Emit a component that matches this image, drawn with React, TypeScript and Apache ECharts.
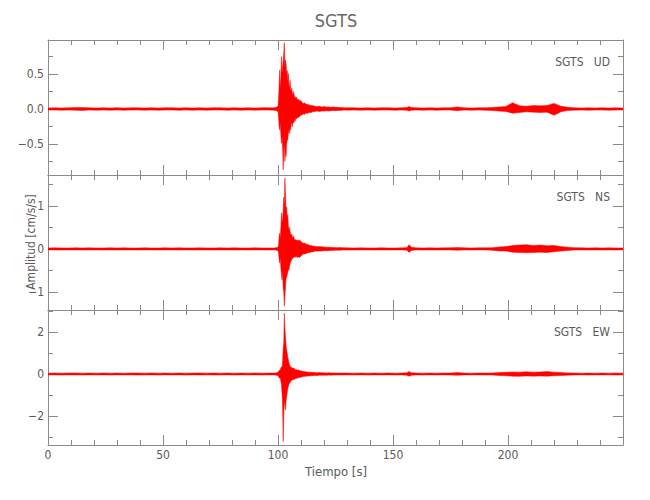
import React, { useEffect, useRef } from 'react';
import * as echarts from 'echarts';

// ---------- data ----------
// sample times [s] (non-uniform: denser around the main arrival)
const T = [
  0, 3, 6, 9, 12, 15, 18, 21, 24, 27, 30, 33, 36, 39, 42, 45, 48, 51, 54, 57, 60, 63, 66, 69, 72, 75, 78, 81, 84, 87, 90, 93, 96,
  98, 99, 100,
  100.25, 100.5, 100.75, 101, 101.25, 101.5, 101.75, 102, 102.25, 102.5, 102.75, 103, 103.25, 103.5, 103.75, 104,
  104.25, 104.5, 104.75, 105, 105.25, 105.5, 105.75, 106, 106.25, 106.5, 106.75, 107, 107.25, 107.5, 107.75, 108,
  108.5, 109, 109.5, 110, 110.5, 111, 111.5, 112, 112.5, 113, 113.5, 114, 114.5, 115,
  116, 117, 118, 119, 120, 121, 122, 123, 124, 125, 126, 127, 128, 129, 130,
  133, 136, 139, 142, 145, 148, 151, 154, 156, 157, 158,
  160, 163, 166, 169, 172, 175, 178, 181, 184, 187, 190, 193, 196, 199, 202, 205, 208, 211, 214, 217,
  220, 223, 226, 229, 232, 235, 238, 241, 244, 247, 250,
];

// UD component: upper / lower envelope [cm/s/s]
const udHi = [
  0.015, 0.018, 0.015, 0.018, 0.022, 0.022, 0.018, 0.015, 0.018, 0.015, 0.018, 0.015, 0.018, 0.018, 0.015, 0.018, 0.015, 0.018, 0.018, 0.015, 0.018, 0.015, 0.018, 0.015, 0.018, 0.018, 0.015, 0.018, 0.015, 0.018, 0.015, 0.018, 0.018,
  0.018, 0.022, 0.04,
  0.15, 0.35, 0.56, 0.3, 0.45, 0.75, 0.5, 0.6, 0.7, 0.8, 0.95, 0.6, 0.7, 0.65, 0.5, 0.55,
  0.4, 0.51, 0.35, 0.3, 0.41, 0.28, 0.25, 0.3, 0.22, 0.2, 0.25, 0.2, 0.16, 0.18, 0.15, 0.17,
  0.13, 0.14, 0.11, 0.12, 0.09, 0.08, 0.09, 0.07, 0.07, 0.06, 0.06, 0.05, 0.05, 0.05,
  0.04, 0.035, 0.04, 0.03, 0.035, 0.03, 0.03, 0.025, 0.03, 0.025, 0.025, 0.02, 0.022, 0.018, 0.018,
  0.018, 0.015, 0.018, 0.015, 0.018, 0.018, 0.015, 0.018, 0.022, 0.035, 0.022,
  0.018, 0.015, 0.018, 0.015, 0.018, 0.018, 0.03, 0.018, 0.015, 0.018, 0.018, 0.022, 0.03, 0.035, 0.09, 0.045, 0.04, 0.05, 0.045, 0.05,
  0.08, 0.04, 0.025, 0.018, 0.015, 0.018, 0.015, 0.018, 0.015, 0.018, 0.015,
];
const udLo = [
  -0.015, -0.015, -0.018, -0.015, -0.018, -0.022, -0.015, -0.018, -0.015, -0.018, -0.015, -0.018, -0.015, -0.015, -0.018, -0.015, -0.018, -0.015, -0.015, -0.018, -0.015, -0.018, -0.015, -0.018, -0.015, -0.015, -0.018, -0.015, -0.018, -0.015, -0.018, -0.015, -0.015,
  -0.018, -0.022, -0.035,
  -0.12, -0.25, -0.3, -0.2, -0.38, -0.49, -0.4, -0.55, -0.87, -0.6, -0.5, -0.75, -0.6, -0.68, -0.5, -0.45,
  -0.44, -0.35, -0.3, -0.35, -0.25, -0.3, -0.22, -0.2, -0.25, -0.18, -0.2, -0.19, -0.15, -0.17, -0.13, -0.14,
  -0.12, -0.12, -0.1, -0.09, -0.08, -0.07, -0.08, -0.06, -0.06, -0.06, -0.05, -0.05, -0.05, -0.04,
  -0.035, -0.03, -0.035, -0.03, -0.03, -0.025, -0.03, -0.025, -0.02, -0.025, -0.02, -0.02, -0.018, -0.015, -0.018,
  -0.015, -0.018, -0.015, -0.018, -0.015, -0.015, -0.018, -0.015, -0.018, -0.03, -0.018,
  -0.015, -0.018, -0.015, -0.018, -0.015, -0.015, -0.025, -0.015, -0.018, -0.015, -0.018, -0.022, -0.03, -0.035, -0.06, -0.05, -0.04, -0.045, -0.05, -0.045,
  -0.09, -0.04, -0.022, -0.018, -0.015, -0.018, -0.015, -0.015, -0.018, -0.015, -0.015,
];

// NS component
const nsHi = [
  0.022, 0.026, 0.022, 0.022, 0.026, 0.022, 0.026, 0.022, 0.022, 0.026, 0.022, 0.026, 0.022, 0.022, 0.026, 0.022, 0.022, 0.026, 0.022, 0.026, 0.022, 0.022, 0.026, 0.022, 0.022, 0.026, 0.022, 0.026, 0.022, 0.022, 0.026, 0.022, 0.022,
  0.022, 0.026, 0.04,
  0.1, 0.3, 0.37, 0.25, 0.5, 0.84, 0.6, 0.7, 0.9, 1.2, 1.0, 1.65, 1.3, 0.9, 0.98, 0.7,
  0.8, 0.55, 0.44, 0.5, 0.4, 0.35, 0.3, 0.35, 0.28, 0.25, 0.3, 0.25, 0.22, 0.2, 0.22, 0.2,
  0.21, 0.19, 0.21, 0.17, 0.15, 0.13, 0.14, 0.12, 0.11, 0.1, 0.09, 0.08, 0.08, 0.07,
  0.06, 0.05, 0.055, 0.05, 0.045, 0.04, 0.04, 0.04, 0.035, 0.035, 0.03, 0.035, 0.03, 0.03, 0.026,
  0.022, 0.026, 0.022, 0.022, 0.026, 0.022, 0.022, 0.026, 0.03, 0.1, 0.04,
  0.026, 0.022, 0.026, 0.022, 0.026, 0.026, 0.035, 0.026, 0.022, 0.026, 0.026, 0.03, 0.045, 0.055, 0.08, 0.09, 0.1, 0.08, 0.09, 0.075,
  0.08, 0.055, 0.04, 0.03, 0.026, 0.022, 0.026, 0.022, 0.026, 0.022, 0.022,
];
const nsLo = [
  -0.022, -0.022, -0.026, -0.022, -0.022, -0.026, -0.022, -0.022, -0.026, -0.022, -0.026, -0.022, -0.022, -0.026, -0.022, -0.022, -0.026, -0.022, -0.022, -0.026, -0.022, -0.026, -0.022, -0.022, -0.026, -0.022, -0.022, -0.026, -0.022, -0.026, -0.022, -0.022, -0.026,
  -0.022, -0.026, -0.04,
  -0.1, -0.25, -0.33, -0.2, -0.45, -0.6, -0.72, -0.5, -0.9, -1.0, -1.33, -1.1, -0.9, -0.7, -0.65, -0.6,
  -0.55, -0.45, -0.5, -0.4, -0.35, -0.3, -0.3, -0.25, -0.22, -0.22, -0.2, -0.2, -0.18, -0.2, -0.17, -0.18,
  -0.2, -0.18, -0.2, -0.16, -0.14, -0.12, -0.12, -0.11, -0.1, -0.09, -0.08, -0.08, -0.07, -0.07,
  -0.055, -0.05, -0.05, -0.045, -0.04, -0.04, -0.04, -0.035, -0.035, -0.03, -0.03, -0.03, -0.026, -0.026, -0.026,
  -0.026, -0.022, -0.022, -0.026, -0.022, -0.026, -0.022, -0.022, -0.03, -0.08, -0.035,
  -0.022, -0.026, -0.022, -0.026, -0.022, -0.022, -0.03, -0.022, -0.026, -0.022, -0.022, -0.03, -0.045, -0.05, -0.075, -0.085, -0.09, -0.085, -0.075, -0.085,
  -0.065, -0.05, -0.035, -0.026, -0.022, -0.026, -0.022, -0.026, -0.022, -0.026, -0.022,
];

// EW component
const ewHi = [
  0.04, 0.05, 0.04, 0.045, 0.05, 0.04, 0.045, 0.04, 0.05, 0.04, 0.045, 0.04, 0.05, 0.045, 0.04, 0.05, 0.04, 0.045, 0.04, 0.05, 0.04, 0.045, 0.05, 0.04, 0.045, 0.04, 0.05, 0.04, 0.045, 0.04, 0.05, 0.04, 0.045,
  0.045, 0.05, 0.08,
  0.12, 0.19, 0.15, 0.2, 0.3, 0.35, 0.3, 0.6, 1.2, 1.5, 2.9, 2.2, 1.78, 1.4, 1.14, 1.0,
  0.8, 0.7, 0.55, 0.43, 0.4, 0.35, 0.3, 0.32, 0.27, 0.3, 0.25, 0.27, 0.24, 0.22, 0.2, 0.22,
  0.18, 0.2, 0.16, 0.15, 0.14, 0.12, 0.12, 0.11, 0.1, 0.1, 0.09, 0.09, 0.08, 0.08,
  0.07, 0.065, 0.07, 0.06, 0.06, 0.055, 0.06, 0.05, 0.055, 0.05, 0.05, 0.045, 0.05, 0.045, 0.045,
  0.04, 0.05, 0.04, 0.045, 0.04, 0.05, 0.04, 0.045, 0.06, 0.12, 0.06,
  0.05, 0.04, 0.045, 0.04, 0.05, 0.045, 0.07, 0.045, 0.04, 0.05, 0.045, 0.05, 0.07, 0.08, 0.1, 0.09, 0.11, 0.09, 0.1, 0.12,
  0.09, 0.07, 0.055, 0.05, 0.04, 0.045, 0.04, 0.05, 0.04, 0.045, 0.04,
];
const ewLo = [
  -0.045, -0.04, -0.05, -0.04, -0.045, -0.05, -0.04, -0.045, -0.04, -0.05, -0.04, -0.045, -0.04, -0.05, -0.045, -0.04, -0.05, -0.04, -0.045, -0.04, -0.05, -0.04, -0.045, -0.04, -0.05, -0.045, -0.04, -0.05, -0.04, -0.045, -0.04, -0.05, -0.04,
  -0.04, -0.05, -0.08,
  -0.1, -0.2, -0.18, -0.2, -0.35, -0.5, -0.9, -1.5, -3.22, -2.0, -1.2, -1.5, -1.71, -1.3, -1.08, -0.9,
  -0.7, -0.6, -0.5, -0.44, -0.4, -0.35, -0.32, -0.3, -0.29, -0.27, -0.25, -0.28, -0.22, -0.24, -0.2, -0.2,
  -0.2, -0.17, -0.16, -0.15, -0.13, -0.12, -0.12, -0.1, -0.1, -0.09, -0.09, -0.08, -0.08, -0.08,
  -0.065, -0.07, -0.06, -0.06, -0.055, -0.06, -0.05, -0.055, -0.05, -0.05, -0.045, -0.05, -0.045, -0.045, -0.04,
  -0.045, -0.04, -0.05, -0.04, -0.045, -0.04, -0.05, -0.04, -0.06, -0.1, -0.06,
  -0.04, -0.05, -0.04, -0.045, -0.04, -0.05, -0.06, -0.04, -0.045, -0.04, -0.05, -0.045, -0.07, -0.08, -0.1, -0.11, -0.09, -0.1, -0.09, -0.1,
  -0.08, -0.07, -0.055, -0.045, -0.04, -0.05, -0.04, -0.045, -0.04, -0.05, -0.04,
];

// axis ranges and ticks
const timeRange = [0, 250];
const udRange = [-0.943, 0.986];
const nsRange = [-1.42, 1.72];
const ewRange = [-3.38, 3.05];
const udMajor = [-0.5, 0, 0.5];
const udMinor = [-0.75, -0.25, 0.25, 0.75];
const nsMajor = [-1, 0, 1];
const nsMinor = [-0.5, 0.5, 1.5];
const ewMajor = [-2, 0, 2];
const ewMinor = [-3, -1, 1, 3];

const stationName = 'SGTS';
const componentNames = ['UD', 'NS', 'EW'];
const xAxisTitle = 'Tiempo [s]';
const yAxisTitle = 'Amplitud [cm/s/s]';

// ---------- styling ----------
const FONT = "'Liberation Sans Narrow', 'DejaVu Sans Condensed', 'Liberation Sans', sans-serif";
const TEXT = '#5a5a5a';
const AXIS = '#8a8a8a';
const RED = '#ff0000';
const GRID_TOPS = [40, 175, 310];
const GRID_H = 135;
const GRID_L = 48;
const GRID_R = 27;

const minus = (s: string) => s.replace('-', '\u2212');

export default function App() {
  const ref = useRef<HTMLDivElement>(null);

  useEffect(() => {
    if (!ref.current) return;
    const chart = echarts.init(ref.current, undefined, { renderer: 'svg' });

    const panels = [
      { hi: udHi, lo: udLo, range: udRange, major: udMajor, minor: udMinor, fmt: (v: number) => minus(v.toFixed(1)) },
      { hi: nsHi, lo: nsLo, range: nsRange, major: nsMajor, minor: nsMinor, fmt: (v: number) => minus(String(v)) },
      { hi: ewHi, lo: ewLo, range: ewRange, major: ewMajor, minor: ewMinor, fmt: (v: number) => minus(String(v)) },
    ];

    const lineStyle = { color: AXIS, width: 1 };
    const grid: any[] = [];
    const xAxis: any[] = [];
    const yAxis: any[] = [];
    const series: any[] = [];

    panels.forEach((p, i) => {
      grid.push({ left: GRID_L, right: GRID_R, top: GRID_TOPS[i], height: GRID_H, containLabel: false, outerBoundsMode: 'none' });
      ['bottom', 'top'].forEach((pos) => {
        xAxis.push({
          type: 'value',
          gridIndex: i,
          position: pos,
          min: timeRange[0],
          max: timeRange[1],
          interval: 50,
          axisLine: { show: true, onZero: false, lineStyle },
          axisTick: { show: true, inside: true, length: 10, lineStyle },
          minorTick: { show: true, splitNumber: 5, length: 5, lineStyle },
          splitLine: { show: false },
          minorSplitLine: { show: false },
          axisLabel: {
            show: pos === 'bottom' && i === 2,
            showMaxLabel: false,
            color: TEXT,
            fontFamily: FONT,
            fontSize: 12,
            margin: 4,
          },
        });
      });
      const yBase = {
        type: 'value',
        gridIndex: i,
        min: p.range[0],
        max: p.range[1],
        splitLine: { show: false },
      };
      yAxis.push({
        ...yBase,
        position: 'left',
        axisLine: { show: true, onZero: false, lineStyle },
        axisTick: { show: true, inside: true, length: 10, customValues: p.major, lineStyle },
        axisLabel: { show: true, customValues: p.major, formatter: p.fmt, color: TEXT, fontFamily: FONT, fontSize: 12, margin: 4 },
      });
      yAxis.push({
        ...yBase,
        position: 'left',
        axisLine: { show: false, onZero: false },
        axisTick: { show: true, inside: true, length: 5, customValues: p.minor, lineStyle },
        axisLabel: { show: false },
      });
      yAxis.push({
        ...yBase,
        position: 'right',
        axisLine: { show: true, onZero: false, lineStyle },
        axisTick: { show: true, inside: true, length: 10, customValues: p.major, lineStyle },
        axisLabel: { show: false },
      });
      yAxis.push({
        ...yBase,
        position: 'right',
        axisLine: { show: false, onZero: false },
        axisTick: { show: true, inside: true, length: 5, customValues: p.minor, lineStyle },
        axisLabel: { show: false },
      });

      [p.hi, p.lo].forEach((vals) => {
        series.push({
          type: 'line',
          xAxisIndex: i * 2,
          yAxisIndex: i * 4,
          data: T.map((t, k) => [t, vals[k]]),
          showSymbol: false,
          symbol: 'none',
          silent: true,
          clip: true,
          lineStyle: { color: RED, width: 0.5 },
          areaStyle: { color: RED, opacity: 1 },
          emphasis: { disabled: true },
        });
      });
    });

    const graphic: any[] = [
      {
        type: 'text',
        x: 336,
        y: 20,
        style: { text: stationName, fill: '#666666', font: `18px ${FONT}`, align: 'center', verticalAlign: 'middle' },
      },
      {
        type: 'text',
        x: 336,
        y: 471,
        style: { text: xAxisTitle, fill: TEXT, font: `13px ${FONT}`, align: 'center', verticalAlign: 'middle' },
      },
      {
        type: 'text',
        x: 31,
        y: 242,
        rotation: Math.PI / 2,
        style: { text: yAxisTitle, fill: TEXT, font: `12px ${FONT}`, align: 'center', verticalAlign: 'middle' },
      },
      ...componentNames.map((c, i) => ({
        type: 'text',
        x: 610,
        y: GRID_TOPS[i] + 22,
        style: { text: `${stationName}   ${c}`, fill: TEXT, font: `12px ${FONT}`, align: 'right', verticalAlign: 'middle' },
      })),
    ];

    chart.setOption({
      animation: false,
      backgroundColor: '#ffffff',
      grid,
      xAxis,
      yAxis,
      series,
      graphic,
    });

    return () => chart.dispose();
  }, []);

  return <div ref={ref} style={{ position: 'fixed', left: 0, top: 0, width: 650, height: 500 }} />;
}
